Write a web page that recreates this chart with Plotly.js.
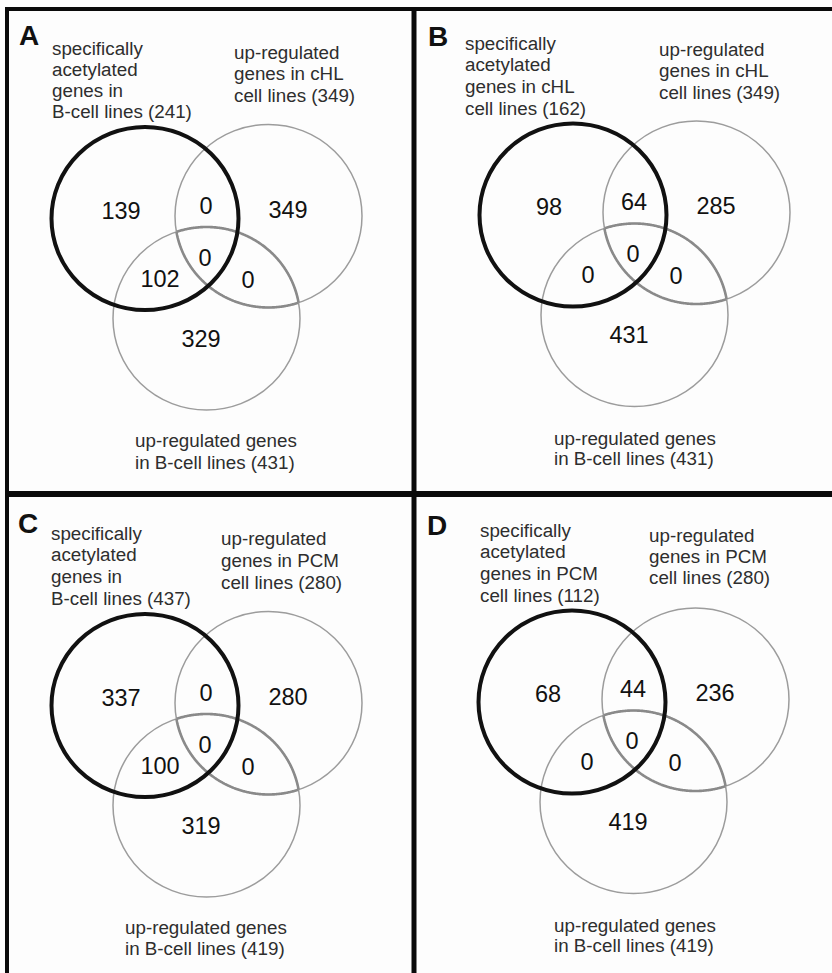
<!DOCTYPE html>
<html>
<head>
<meta charset="utf-8">
<script src="https://cdn.plot.ly/plotly-3.0.1.min.js"></script>
<style>
  html, body { margin: 0; padding: 0; background: #fdfdfd; }
  #chart { width: 832px; height: 973px; }
</style>
</head>
<body>
<div id="chart"></div>
<script>
// Four three-set Venn diagrams: acetylated genes vs. up-regulated genes.
const panelLetters = ['A', 'B', 'C', 'D'];

// Set sizes shown in the set captions
const acetylatedSizes = [241, 162, 437, 112];
const acetylatedLines = [
  ['specifically', 'acetylated', 'genes in', 'B-cell lines'],
  ['specifically', 'acetylated', 'genes in cHL', 'cell lines'],
  ['specifically', 'acetylated', 'genes in', 'B-cell lines'],
  ['specifically', 'acetylated', 'genes in PCM', 'cell lines']
];
const topSetSizes = [349, 349, 280, 280];
const topSetLines = [
  ['up-regulated', 'genes in cHL', 'cell lines'],
  ['up-regulated', 'genes in cHL', 'cell lines'],
  ['up-regulated', 'genes in PCM', 'cell lines'],
  ['up-regulated', 'genes in PCM', 'cell lines']
];
const bottomSetSizes = [431, 431, 419, 419];
const bottomSetLines = [
  ['up-regulated genes', 'in B-cell lines'],
  ['up-regulated genes', 'in B-cell lines'],
  ['up-regulated genes', 'in B-cell lines'],
  ['up-regulated genes', 'in B-cell lines']
];

// Region counts per panel
const onlyAcetylated      = [139, 98, 337, 68];
const acetylatedAndTop    = [0, 64, 0, 44];
const onlyTop             = [349, 285, 280, 236];
const allThree            = [0, 0, 0, 0];
const acetylatedAndBottom = [102, 0, 100, 0];
const topAndBottom        = [0, 0, 0, 0];
const onlyBottom          = [329, 431, 319, 419];

// ---- layout (pixel space, y grows downward) ----
const W = 832, H = 973;
const panelOffsets = [[0, 0], [428, -3.5], [0, 487], [427, 483.5]];
const RX = 93.5, RY = 91.5;
const circleCenters = { acet: [145, 218.5], top: [268.5, 216], bottom: [206.5, 318.5] };
const regionSpots = [
  [onlyAcetylated,      [121, 213]],
  [acetylatedAndTop,    [206, 208]],
  [onlyTop,             [288, 212]],
  [allThree,            [205, 260]],
  [acetylatedAndBottom, [160, 281]],
  [topAndBottom,        [248, 282]],
  [onlyBottom,          [201, 341]]
];
// caption anchors: [x, first line y, line step]
const captionPos = [
  { letter: [28.5, 35.5], acet: [50, 48, 21.3], top: [232, 52, 21.5], bottom: [133, 440, 22] },
  { letter: [438, 36],    acet: [463, 43, 21.7], top: [657, 49, 21.5], bottom: [552, 438, 20.5] },
  { letter: [27.5, 523],  acet: [49, 533, 21.7], top: [219, 538, 22], bottom: [123, 927, 21] },
  { letter: [437, 525],   acet: [478, 530, 21.7], top: [647, 535, 21], bottom: [552, 925, 20.5] }
];

const FONT = 'Liberation Sans, Arial, Helvetica, sans-serif';

function ellipsePoint(c, t) { return [c[0] + RX * Math.cos(t), c[1] + RY * Math.sin(t)]; }
function inside(p, c) {
  const dx = (p[0] - c[0]) / RX, dy = (p[1] - c[1]) / RY;
  return dx * dx + dy * dy <= 1;
}
// Portion of ellipse e that lies inside ellipse o, as an ordered list of points
function arcInside(e, o) {
  const N = 720, pts = [];
  for (let i = 0; i < N; i++) pts.push(ellipsePoint(e, 2 * Math.PI * i / N));
  let start = 0;
  for (let i = 0; i < N; i++) {
    if (!inside(pts[i], o) && inside(pts[(i + 1) % N], o)) { start = (i + 1) % N; break; }
  }
  const out = [];
  for (let k = 0; k < N; k++) {
    const p = pts[(start + k) % N];
    if (!inside(p, o)) break;
    out.push(p);
  }
  return out;
}
function pathFrom(points) {
  return points.map((p, i) => (i ? 'L' : 'M') + p[0].toFixed(2) + ',' + p[1].toFixed(2)).join(' ');
}

const shapes = [];
const annotations = [];
const numX = [], numY = [], numText = [];

panelLetters.forEach((letter, k) => {
  const [ox, oy] = panelOffsets[k];
  const cA = [circleCenters.acet[0] + ox, circleCenters.acet[1] + oy];
  const cT = [circleCenters.top[0] + ox, circleCenters.top[1] + oy];
  const cB = [circleCenters.bottom[0] + ox, circleCenters.bottom[1] + oy];

  const ellipse = (c, color, width) => ({
    type: 'circle', xref: 'x', yref: 'y', layer: 'below',
    x0: c[0] - RX, x1: c[0] + RX, y0: c[1] - RY, y1: c[1] + RY,
    line: { color: color, width: width }
  });
  shapes.push(ellipse(cT, '#9c9c9c', 1.5));
  shapes.push(ellipse(cB, '#9c9c9c', 1.5));
  // darker outline of the overlap between the two up-regulated sets
  [arcInside(cB, cT), arcInside(cT, cB)].forEach(pts => {
    shapes.push({ type: 'path', xref: 'x', yref: 'y', layer: 'below',
      path: pathFrom(pts), line: { color: '#8a8a8a', width: 2.6 } });
  });
  shapes.push(ellipse(cA, '#111111', 4));

  // region counts
  regionSpots.forEach(([arr, pos]) => {
    numX.push(pos[0] + ox);
    numY.push(pos[1] + oy);
    numText.push(String(arr[k]));
  });

  // captions
  const cp = captionPos[k];
  annotations.push({ x: cp.letter[0], y: cp.letter[1], xref: 'x', yref: 'y', text: '<b>' + letter + '</b>',
    showarrow: false, xanchor: 'center', yanchor: 'middle',
    font: { family: FONT, size: 28, color: '#111' } });

  const addLines = (lines, size, pos) => {
    const txt = lines.slice();
    txt[txt.length - 1] += ' (' + size + ')';
    txt.forEach((t, i) => {
      annotations.push({ x: pos[0], y: pos[1] + i * pos[2], xref: 'x', yref: 'y', text: t,
        showarrow: false, xanchor: 'left', yanchor: 'middle',
        font: { family: FONT, size: 18.8, color: '#2e2e2e' } });
    });
  };
  addLines(acetylatedLines[k], acetylatedSizes[k], cp.acet);
  addLines(topSetLines[k], topSetSizes[k], cp.top);
  addLines(bottomSetLines[k], bottomSetSizes[k], cp.bottom);
});

// panel frame
const frame = (x0, y0, x1, y1, w) => ({ type: 'line', xref: 'x', yref: 'y', layer: 'above',
  x0: x0, y0: y0, x1: x1, y1: y1, line: { color: '#0a0a0a', width: w } });
shapes.push(frame(5, 9, W, 9, 4));
shapes.push(frame(7, 7, 7, H, 4));
shapes.push(frame(414, 7, 414, H, 5));
shapes.push(frame(5, 494, W, 494, 6));

const trace = {
  type: 'scatter', mode: 'text', x: numX, y: numY, text: numText,
  textposition: 'middle center', hoverinfo: 'skip',
  textfont: { family: FONT, size: 23.5, color: '#111' }
};

const layout = {
  width: W, height: H,
  margin: { l: 0, r: 0, t: 0, b: 0 },
  paper_bgcolor: '#fdfdfd', plot_bgcolor: '#fdfdfd',
  showlegend: false,
  xaxis: { range: [0, W], visible: false, fixedrange: true },
  yaxis: { range: [H, 0], visible: false, fixedrange: true },
  shapes: shapes,
  annotations: annotations
};

Plotly.newPlot('chart', [trace], layout, { staticPlot: true });
</script>
</body>
</html>
